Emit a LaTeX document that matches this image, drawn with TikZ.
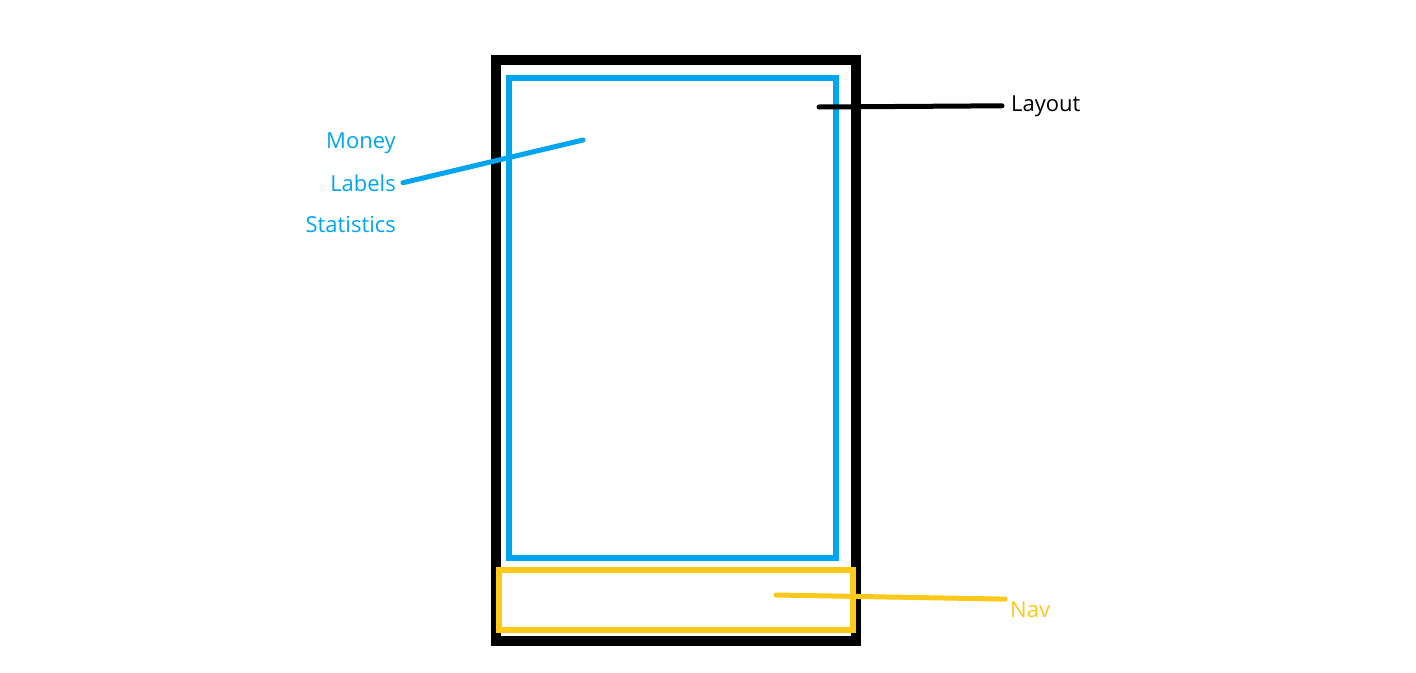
\documentclass[tikz,border=0pt]{standalone}
\usepackage{fontspec}
\setmainfont{Open Sans}
\usetikzlibrary{positioning}

\definecolor{skyblue}{RGB}{0,166,237}
\definecolor{navyellow}{RGB}{252,200,26}

\begin{document}
\begin{tikzpicture}[
  x=1pt, y=-1pt,
  frame/.style={draw, line width=10pt},
  area/.style={draw, line width=6pt},
  lbl/.style={inner sep=0pt, font=\fontsize{22}{26}\selectfont},
  ptr/.style={line width=5pt, line cap=round}
]
\useasboundingbox (0,0) rectangle (1416,672);

% phone outline and regions
\draw[frame] (496,60) rectangle (856,641);
\draw[area, skyblue] (509,78) rectangle (836,558);
\draw[area, navyellow] (499,570) rectangle (853,630);

% labels
\node[lbl, anchor=base east, text=skyblue] (money) at (396,148) {Money};
\node[lbl, anchor=base east, text=skyblue] (labels) at (396,191) {Labels};
\node[lbl, anchor=base east, text=skyblue] (stats) at (396,232) {Statistics};
\node[lbl, anchor=base west] (layout) at (1011,111) {Layout};
\node[lbl, anchor=base west, text=navyellow] (nav) at (1010,617) {Nav};

\coordinate (layoutpt) at (819,107);
\coordinate (contentpt) at (583,140);
\coordinate (navpt) at (776,595);

% pointers
\draw[ptr] (layoutpt) -- ([xshift=-9pt]layout.west);
\draw[ptr, skyblue] ([xshift=7pt]labels.east) -- (contentpt);
\draw[ptr, navyellow] (navpt) -- ([xshift=-5pt, yshift=2pt]nav.north west);
\end{tikzpicture}
\end{document}
